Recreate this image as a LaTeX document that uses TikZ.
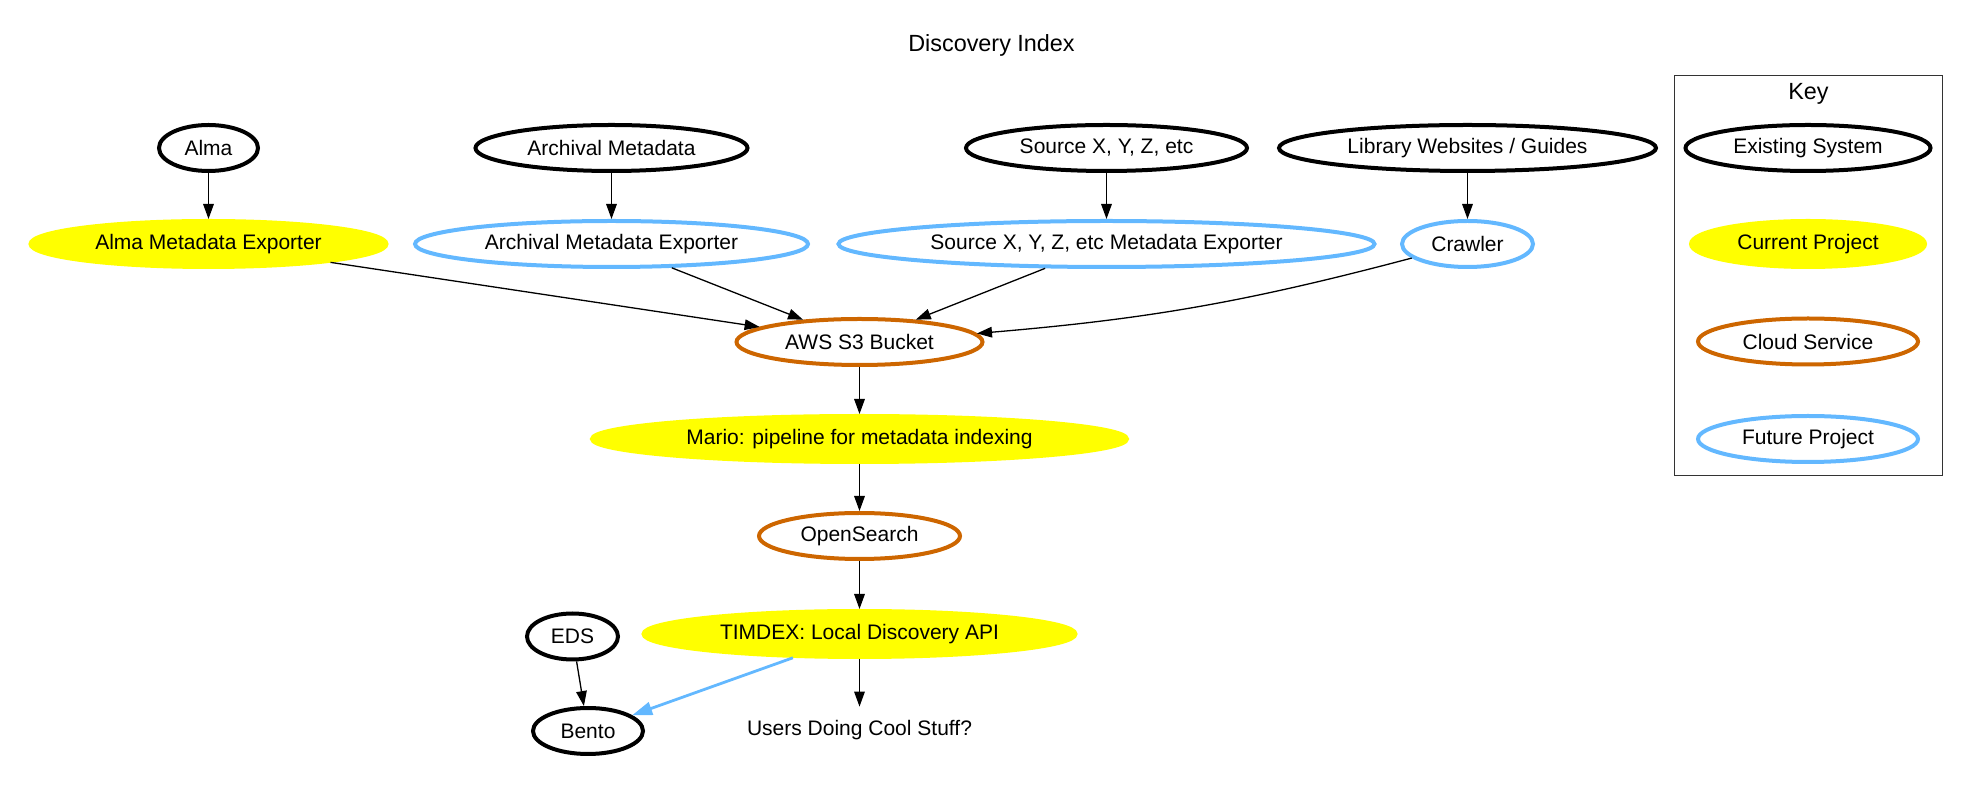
\documentclass[tikz,border=0pt]{standalone}
\usepackage{fontspec}
\setmainfont{Liberation Sans}
\usetikzlibrary{shapes.geometric,arrows.meta}
\definecolor{cloudc}{HTML}{CD6600}
\definecolor{futurec}{HTML}{63B8FF}
\definecolor{curc}{HTML}{FFFF00}
\newcommand{\nodefont}{\fontsize{10.5}{12}\selectfont}
\newcommand{\titlefont}{\fontsize{11.7}{14}\selectfont}
\tikzset{
  base/.style={ellipse, inner sep=0pt, minimum height=23pt, font=\nodefont},
  existing/.style={base, draw=black, line width=2pt},
  current/.style={base, fill=curc, draw=curc, line width=2pt},
  cloud/.style={base, draw=cloudc, line width=2pt},
  future/.style={base, draw=futurec, line width=2pt},
  arr/.style={-{Triangle[length=7.5pt,width=5.3pt]}, line width=0.65pt},
  bluearr/.style={-{Triangle[length=10pt,width=6.5pt]}, line width=1.4pt, draw=futurec, fill=futurec},
}
\begin{document}
\begin{tikzpicture}[x=0.5pt,y=-0.5pt]
\useasboundingbox (0,0) rectangle (1983,785);
% title
\node[font=\titlefont] (title) at (991.5,45) {Discovery Index};
% row 1
\node[existing, minimum width=49.5pt] (alma) at (208.5,148) {Alma};
\node[existing, minimum width=136pt] (arch) at (611.5,148) {Archival Metadata};
\node[existing, minimum width=140.5pt] (src) at (1106.5,148) {Source X, Y, Z, etc};
\node[existing, minimum width=188.5pt] (lib) at (1467.5,148) {Library Websites / Guides};
% row 2
\node[current, minimum width=178pt] (almaexp) at (208.5,244) {Alma Metadata Exporter};
\node[future, minimum width=196.5pt] (archexp) at (611.5,244) {Archival Metadata Exporter};
\node[future, minimum width=268pt] (srcexp) at (1106.5,244) {Source X, Y, Z, etc Metadata Exporter};
\node[future, minimum width=65.5pt] (crawler) at (1467.5,244) {Crawler};
% central column
\node[cloud, minimum width=123pt] (aws) at (859.5,342) {AWS S3 Bucket};
\node[current, minimum width=267.5pt] (mario) at (859.5,439) {Mario: pipeline for metadata indexing};
\node[cloud, minimum width=100.5pt] (os) at (859.5,536) {OpenSearch};
\node[current, minimum width=216pt] (timdex) at (859.5,634) {TIMDEX: Local Discovery API};
\node[existing, minimum width=45.5pt] (eds) at (572.5,636.5) {EDS};
\node[existing, minimum width=55pt] (bento) at (588,731) {Bento};
\node[rectangle, inner sep=0pt, minimum height=23pt, font=\nodefont] (users) at (859.5,730) {Users Doing Cool Stuff?};
% key
\node[draw=black!80, line width=0.5pt, rectangle, inner sep=0pt, minimum width=134pt, minimum height=200pt] (keybox) at (1808.5,275.7) {};
\node[font=\titlefont] (keylabel) at (1808.5,93.5) {Key};
\node[existing, minimum width=122.5pt] (kexist) at (1808,148) {Existing System};
\node[current, minimum width=117pt] (kcur) at (1808,244) {Current Project};
\node[cloud, minimum width=110pt] (kcloud) at (1808,341.5) {Cloud Service};
\node[future, minimum width=110pt] (kfut) at (1808,439) {Future Project};
% edges
\draw[arr] (alma) -- (almaexp);
\draw[arr] (arch) -- (archexp);
\draw[arr] (src) -- (srcexp);
\draw[arr] (lib) -- (crawler);
\draw[arr] (almaexp) -- (aws);
\draw[arr] (archexp) -- (aws);
\draw[arr] (srcexp) -- (aws);
\draw[arr] (crawler) to[bend left=5] (aws);
\draw[arr] (aws) -- (mario);
\draw[arr] (mario) -- (os);
\draw[arr] (os) -- (timdex);
\draw[arr] (timdex) -- (users);
\draw[arr] (eds) -- (bento);
\draw[bluearr] (timdex) -- (bento);
\end{tikzpicture}
\end{document}
